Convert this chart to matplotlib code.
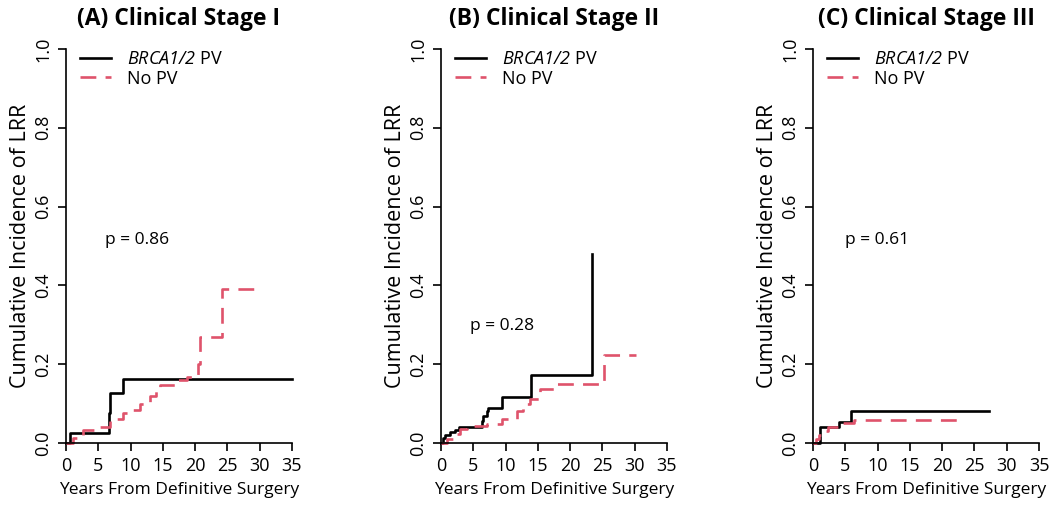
import matplotlib.pyplot as plt
import numpy as np

plt.rcParams['font.family'] = ['Open Sans', 'DejaVu Sans']
plt.rcParams['mathtext.fontset'] = 'custom'
plt.rcParams['mathtext.rm'] = 'Open Sans'
# курсив для цифр тоже: используем слот sf
plt.rcParams['mathtext.sf'] = 'Open Sans:italic'

# Данные: ступенчатые кривые кумулятивной частоты (время в годах, значение)
titles = ['(A) Clinical Stage I', '(B) Clinical Stage II', '(C) Clinical Stage III']
p_labels = ['p = 0.86', 'p = 0.28', 'p = 0.61']
p_pos = [(6.0, 0.515), (4.5, 0.297), (4.9, 0.515)]

brca_t = [
    [0, 0.6, 6.6, 6.8, 8.9],
    [0, 0.36, 0.62, 1.39, 2.16, 2.8, 6.3, 6.5, 7.1, 7.3, 9.5, 13.9, 23.4],
    [0, 1.1, 4.1, 5.9],
]
brca_v = [
    [0, 0.025, 0.075, 0.127, 0.163],
    [0, 0.012, 0.02, 0.028, 0.032, 0.04, 0.055, 0.068, 0.08, 0.09, 0.116, 0.172, 0.48],
    [0, 0.04, 0.054, 0.08],
]
brca_end = [35.0, 23.4, 27.2]

nopv_t = [
    [0, 1.1, 2.6, 4.8, 6.8, 8.9, 10.4, 11.5, 13.0, 14.0, 14.6, 17.0, 18.7, 20.5, 20.8, 24.1],
    [0, 0.9, 1.9, 2.9, 4.0, 7.1, 9.4, 11.7, 12.7, 13.8, 15.3, 17.9, 25.3],
    [0, 0.5, 1.0, 1.5, 2.3, 3.8, 4.3, 6.3],
]
nopv_v = [
    [0, 0.013, 0.033, 0.04, 0.06, 0.075, 0.085, 0.1, 0.12, 0.14, 0.148, 0.16, 0.168, 0.2, 0.27, 0.39],
    [0, 0.01, 0.023, 0.036, 0.042, 0.048, 0.061, 0.082, 0.099, 0.112, 0.137, 0.15, 0.223],
    [0, 0.01, 0.02, 0.03, 0.04, 0.045, 0.052, 0.058],
]
nopv_end = [30.3, 30.2, 22.6]

red = '#DF536B'

fig = plt.figure(figsize=(10.5, 5.07), dpi=100)
lefts = [66, 441, 813]

for i in range(3):
    ax = fig.add_axes([lefts[i] / 1050, 64 / 507, 226 / 1050, 394 / 507])

    t = brca_t[i] + [brca_end[i]]
    v = brca_v[i] + [brca_v[i][-1]]
    ax.step(t, v, where='post', color='black', lw=1.9, clip_on=False,
            label=r'$\mathsf{BRCA1/2}$ PV')
    t = nopv_t[i] + [nopv_end[i]]
    v = nopv_v[i] + [nopv_v[i][-1]]
    ax.step(t, v, where='post', color=red, lw=1.9, dashes=(6, 3.5),
            clip_on=False, label='No PV')

    ax.set_xlim(0, 35)
    ax.set_ylim(0, 1)
    ax.set_xticks(np.arange(0, 36, 5))
    ax.set_yticks(np.arange(0, 1.01, 0.2))
    ax.set_yticklabels(['0.0', '0.2', '0.4', '0.6', '0.8', '1.0'],
                       rotation=90, va='center')
    ax.tick_params(direction='out', length=6, width=1.2, labelsize=13, pad=4)
    ax.spines['top'].set_visible(False)
    ax.spines['right'].set_visible(False)
    ax.spines['left'].set_linewidth(1.2)
    ax.spines['bottom'].set_linewidth(1.2)

    ax.set_xlabel('Years From Definitive Surgery', fontsize=12.5, labelpad=5)
    ax.set_ylabel('Cumulative Incidence of LRR', fontsize=15.5, labelpad=2)
    ax.set_title(titles[i], fontsize=16.5, fontweight='bold', pad=17)
    ax.text(p_pos[i][0], p_pos[i][1], p_labels[i], fontsize=12.5, va='center')

    ax.legend(loc='upper left', bbox_to_anchor=(0.03, 1.015), frameon=False,
              fontsize=13, handlelength=1.7, handletextpad=0.9,
              labelspacing=0.08, borderaxespad=0)

plt.savefig('out.png', dpi=100)
